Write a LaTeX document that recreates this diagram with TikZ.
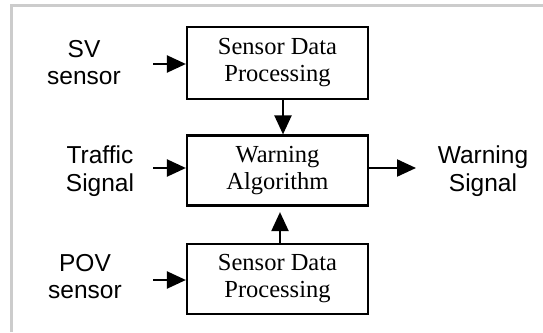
\documentclass[tikz,border=0pt]{standalone}
\usepackage{fontspec}
\setmainfont{Liberation Serif}
\newfontfamily\labelfont{Liberation Sans}
\usetikzlibrary{arrows.meta}
\tikzset{
  procbox/.style={draw=black, line width=2.2pt, minimum width=181pt, inner sep=0pt,
    align=center, font=\fontsize{24.5}{27}\selectfont},
  sidelabel/.style={align=center, inner sep=0pt, font=\labelfont\fontsize{24.5}{27.5}\selectfont},
  arr/.style={line width=2.2pt, -{Triangle[length=19pt,width=17pt]}},
  frameline/.style={draw=black!20, line width=2.6pt}
}
\begin{document}
\begin{tikzpicture}[x=1pt,y=-1pt]
  \useasboundingbox[fill=white] (0,0) rectangle (543,332);
  \draw[frameline] (11.3,332) -- (11.3,5.3) -- (543,5.3);

  \node[procbox, minimum height=72pt] (sdp1) at (277.5,63) {Sensor Data\\Processing};
  \node[procbox, minimum height=70pt] (alg) at (277.5,170.5) {Warning\\Algorithm};
  \node[procbox, minimum height=70pt] (sdp2) at (277.5,279) {Sensor Data\\Processing};

  \node[sidelabel] (sv) at (84,62.5) {SV\\sensor};
  \node[sidelabel] (traffic) at (100,171) {Traffic\\Signal};
  \node[sidelabel] (pov) at (85,276.5) {POV\\sensor};
  \node[sidelabel] (warnsig) at (483,171) {Warning\\Signal};

  \coordinate (svin) at (153,64);
  \coordinate (trin) at (153,168);
  \coordinate (povin) at (153,280);
  \coordinate (wout) at (416,168);
  \coordinate (downx) at (283,0);
  \coordinate (upx) at (280,0);

  \draw[arr] (svin) -- (svin -| sdp1.west);
  \draw[arr] (trin) -- (trin -| alg.west);
  \draw[arr] (povin) -- (povin -| sdp2.west);
  \draw[arr] (wout -| alg.east) -- (wout);
  \draw[arr] (sdp1.south -| downx) -- (alg.north -| downx);
  \draw[arr, shorten >=5.5pt] (sdp2.north -| upx) -- (alg.south -| upx);
\end{tikzpicture}
\end{document}
